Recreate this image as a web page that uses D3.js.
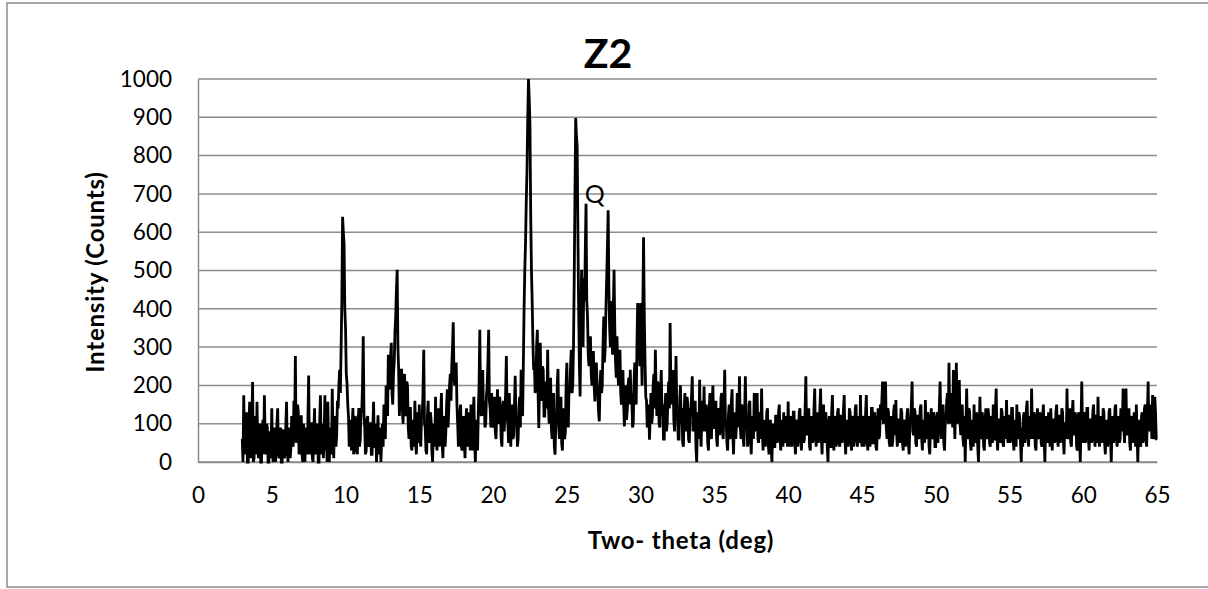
<!DOCTYPE html>
<html>
<head>
<meta charset="utf-8">
<script src="https://cdn.jsdelivr.net/npm/d3@7"></script>
<style>
	body { margin: 0; background: #fff; }
	svg { display: block; font-family: Lato, "Open Sans", sans-serif; }
</style>
</head>
<body>
<div id="chart"></div>
<script>
const chartTitle = 'Z2';
const xTitle = 'Two- theta (deg)';
const yTitle = 'Intensity (Counts)';

const xTicks = [0, 5, 10, 15, 20, 25, 30, 35, 40, 45, 50, 55, 60, 65];
const yTicks = [0, 100, 200, 300, 400, 500, 600, 700, 800, 900, 1000];

// scan grid: 3.00 .. 65.00 deg, 0.05 deg step
const thetaStart = 3;
const thetaStep = 0.05;

// counts, one row per degree (x.00 .. x.95)
const intensity = [
	60, 0, 174, 50, 20, 110, 130, 0, 0, 90, 157, 10, 40, 100, 209, 0, 10, 80, 120, 20,                  // 3
	157, 30, 10, 100, 95, 0, 0, 70, 110, 20, 174, 60, 20, 100, 90, 0, 0, 60, 80, 10,                   // 4
	140, 20, 0, 90, 70, 0, 30, 100, 140, 20, 10, 80, 90, 0, 0, 70, 85, 10, 20, 90,                     // 5
	157, 30, 0, 90, 80, 10, 40, 120, 100, 40, 160, 80, 277, 50, 60, 150, 130, 20, 30, 100,             // 6
	122, 20, 0, 100, 60, 0, 90, 30, 20, 110, 226, 20, 40, 100, 100, 10, 0, 80, 140, 30,                // 7
	20, 100, 90, 0, 0, 110, 174, 20, 60, 100, 10, 70, 174, 30, 80, 0, 157, 40, 0, 90,                  // 8
	60, 20, 191, 60, 10, 120, 110, 40, 70, 160, 140, 200, 241, 180, 300, 420, 640, 600, 570, 400,      // 9
	350, 230, 206, 150, 120, 40, 60, 110, 30, 90, 141, 20, 40, 120, 110, 30, 20, 100, 141, 40,         // 10
	60, 140, 130, 200, 328, 120, 90, 20, 30, 110, 120, 40, 50, 100, 100, 20, 20, 90, 157, 40,          // 11
	40, 100, 0, 60, 122, 20, 50, 90, 0, 60, 100, 40, 150, 70, 60, 200, 180, 120, 280, 190,             // 12
	200, 270, 311, 180, 150, 230, 260, 340, 380, 450, 502, 300, 240, 120, 180, 240, 240, 140, 100, 200, // 13
	230, 150, 120, 210, 200, 90, 60, 140, 140, 40, 30, 110, 100, 40, 160, 60, 20, 100, 130, 50,        // 14
	150, 60, 40, 120, 120, 180, 293, 100, 90, 30, 20, 120, 160, 50, 60, 130, 110, 30, 0, 90,           // 15
	100, 40, 170, 60, 30, 120, 140, 40, 60, 130, 180, 50, 10, 110, 120, 40, 80, 150, 190, 90,          // 16
	140, 200, 230, 160, 250, 300, 365, 220, 200, 240, 260, 150, 100, 40, 60, 130, 150, 40, 30, 100,    // 17
	120, 50, 10, 100, 140, 40, 60, 130, 90, 30, 150, 60, 30, 120, 170, 50, 0, 80, 110, 30,             // 18
	130, 200, 345, 150, 120, 180, 240, 120, 160, 90, 100, 170, 200, 260, 345, 160, 140, 90, 180, 100,  // 19
	90, 150, 170, 80, 60, 140, 190, 100, 110, 170, 140, 60, 40, 130, 160, 80, 120, 180, 277, 120,      // 20
	100, 50, 180, 90, 40, 110, 150, 60, 70, 150, 225, 100, 110, 40, 60, 140, 170, 90, 241, 150,        // 21
	120, 250, 398, 500, 572, 680, 763, 900, 1000, 950, 880, 650, 502, 420, 311, 240, 260, 180, 200, 300, // 22
	345, 180, 89, 200, 311, 170, 160, 250, 240, 120, 120, 210, 200, 140, 293, 150, 100, 180, 220, 90,  // 23
	60, 150, 180, 40, 19, 100, 110, 200, 243, 90, 60, 130, 170, 50, 30, 120, 140, 60, 80, 200,         // 24
	259, 140, 90, 200, 180, 250, 293, 180, 200, 300, 480, 700, 898, 850, 824, 600, 400, 250, 171, 350, // 25
	502, 380, 300, 480, 420, 550, 674, 420, 380, 280, 250, 300, 328, 230, 200, 260, 290, 200, 158, 220, // 26
	260, 200, 180, 130, 106, 200, 240, 180, 200, 300, 380, 260, 300, 400, 480, 560, 657, 450, 350, 300, // 27
	420, 330, 280, 400, 502, 350, 260, 220, 328, 240, 200, 260, 293, 180, 150, 220, 240, 150, 93, 160, // 28
	200, 110, 140, 200, 220, 150, 241, 160, 180, 90, 100, 200, 260, 170, 150, 300, 415, 350, 300, 250, // 29
	415, 300, 200, 400, 587, 380, 259, 170, 160, 90, 100, 150, 58, 120, 180, 100, 120, 200, 230, 140,  // 30
	293, 180, 120, 210, 200, 100, 90, 180, 240, 120, 150, 60, 60, 140, 180, 80, 100, 160, 210, 140,    // 31
	363, 200, 150, 220, 240, 110, 80, 180, 277, 140, 120, 60, 60, 160, 200, 100, 140, 50, 40, 130,     // 32
	180, 80, 100, 170, 150, 60, 50, 140, 120, 170, 224, 80, 90, 150, 160, 40, 0, 100, 130, 60,         // 33
	215, 90, 40, 130, 160, 80, 197, 100, 80, 150, 120, 50, 30, 140, 180, 70, 60, 150, 200, 90,         // 34
	90, 150, 160, 60, 40, 130, 140, 70, 100, 170, 180, 80, 60, 150, 241, 100, 110, 50, 30, 120,        // 35
	150, 60, 80, 160, 190, 70, 20, 120, 130, 60, 100, 180, 170, 90, 224, 100, 60, 150, 140, 60,        // 36
	40, 130, 224, 100, 110, 40, 60, 150, 160, 60, 20, 110, 120, 60, 180, 90, 80, 140, 180, 60,         // 37
	50, 120, 130, 60, 192, 80, 30, 110, 100, 40, 60, 130, 140, 50, 20, 100, 110, 40, 0, 90,            // 38
	100, 40, 40, 120, 120, 50, 70, 130, 150, 60, 30, 110, 90, 40, 130, 60, 50, 120, 110, 40,           // 39
	158, 70, 40, 120, 100, 40, 60, 130, 130, 50, 20, 100, 110, 40, 70, 130, 140, 60, 30, 110,          // 40
	120, 50, 60, 140, 224, 70, 80, 130, 140, 40, 30, 120, 110, 50, 60, 140, 192, 70, 40, 120,          // 41
	130, 50, 80, 140, 192, 60, 20, 110, 150, 50, 60, 130, 100, 40, 0, 100, 120, 40, 40, 130,           // 42
	175, 60, 30, 120, 110, 40, 60, 130, 140, 50, 40, 120, 120, 50, 80, 140, 175, 60, 20, 110,          // 43
	100, 40, 60, 140, 130, 50, 30, 110, 120, 40, 70, 140, 150, 60, 40, 120, 100, 50, 175, 70,          // 44
	40, 120, 110, 40, 60, 130, 175, 60, 30, 110, 120, 40, 80, 140, 140, 50, 50, 130, 100, 40,          // 45
	30, 110, 140, 60, 70, 150, 110, 160, 210, 100, 120, 170, 210, 90, 60, 140, 130, 50, 40, 120,       // 46
	100, 40, 60, 130, 150, 70, 162, 80, 40, 110, 110, 50, 80, 140, 130, 50, 30, 110, 100, 40,          // 47
	60, 120, 140, 50, 20, 100, 110, 150, 210, 80, 70, 140, 130, 50, 40, 120, 120, 60, 80, 140,         // 48
	150, 60, 30, 110, 100, 50, 162, 80, 60, 130, 120, 40, 20, 100, 140, 60, 70, 130, 110, 40,          // 49
	40, 110, 130, 50, 80, 150, 210, 90, 60, 140, 150, 50, 30, 110, 120, 160, 180, 100, 259, 120,       // 50
	100, 180, 160, 90, 240, 130, 60, 150, 259, 140, 100, 170, 214, 100, 70, 140, 150, 60, 40, 120,     // 51
	0, 100, 192, 80, 60, 140, 130, 50, 30, 110, 100, 40, 150, 70, 50, 130, 120, 40, 0, 90,             // 52
	170, 70, 60, 130, 110, 40, 30, 110, 140, 60, 80, 140, 120, 50, 40, 120, 100, 50, 150, 60,          // 53
	60, 140, 192, 70, 30, 110, 110, 50, 70, 140, 130, 50, 40, 120, 100, 60, 162, 80, 50, 120,          // 54
	120, 50, 70, 140, 140, 60, 30, 110, 100, 40, 150, 80, 60, 130, 110, 50, 0, 90, 40, 120,            // 55
	130, 50, 80, 140, 160, 70, 40, 120, 110, 60, 192, 90, 60, 130, 120, 40, 30, 110, 140, 60,          // 56
	70, 130, 110, 50, 40, 120, 150, 60, 0, 90, 120, 50, 60, 130, 100, 40, 140, 70, 30, 110,            // 57
	110, 50, 60, 130, 150, 60, 40, 120, 120, 50, 80, 140, 130, 60, 20, 100, 100, 60, 192, 80,          // 58
	60, 130, 140, 50, 40, 120, 162, 70, 80, 130, 110, 40, 30, 120, 130, 60, 0, 100, 210, 90,           // 59
	50, 130, 120, 50, 80, 140, 140, 60, 30, 110, 110, 50, 60, 130, 150, 70, 40, 120, 120, 50,          // 60
	170, 80, 40, 120, 110, 50, 70, 140, 130, 50, 20, 110, 100, 40, 60, 130, 140, 60, 0, 90,            // 61
	120, 50, 70, 140, 150, 60, 40, 120, 110, 50, 60, 140, 130, 80, 192, 90, 50, 120, 192, 70,          // 62
	80, 130, 140, 50, 30, 110, 120, 50, 60, 130, 100, 40, 150, 70, 0, 90, 110, 50, 40, 120,            // 63
	130, 50, 70, 140, 150, 60, 40, 130, 210, 80, 90, 150, 140, 60, 175, 80, 60, 170, 130, 60,          // 64
	58                                                                                                  // 65
];

// peak annotation
const labelTheta = [26.9];
const labelCounts = [700];
const labelText = ['Q'];

const width = 1208;
const height = 589;
const plot = { left: 198, right: 1157, top: 79, bottom: 462 };

const svg = d3.select('#chart').append('svg')
	.attr('width', width)
	.attr('height', height);

// chart border (right edge falls outside the picture)
svg.append('rect')
	.attr('x', 7)
	.attr('y', 3)
	.attr('width', 1220)
	.attr('height', 584)
	.style('fill', '#fff')
	.style('stroke', '#8c8c8c')
	.style('stroke-width', 1.5);

const xScale = d3.scaleLinear()
	.domain([0, 65])
	.range([plot.left, plot.right]);

const yScale = d3.scaleLinear()
	.domain([0, 1000])
	.range([plot.bottom, plot.top]);

// gridlines
svg.append('g')
	.selectAll('line')
	.data(yTicks)
	.enter()
	.append('line')
		.attr('x1', plot.left)
		.attr('x2', plot.right)
		.attr('y1', d => yScale(d))
		.attr('y2', d => yScale(d))
		.style('stroke', '#8c8c8c')
		.style('stroke-width', 1.5);

const yAxis = d3.axisLeft(yScale)
	.tickValues(yTicks)
	.tickFormat(d3.format('d'))
	.tickSize(0)
	.tickPadding(26);

const xAxis = d3.axisBottom(xScale)
	.tickValues(xTicks)
	.tickFormat(d3.format('d'))
	.tickSize(0)
	.tickPadding(25);

const gy = svg.append('g')
	.attr('transform', `translate(${plot.left}, 0)`)
	.call(yAxis);

const gx = svg.append('g')
	.attr('transform', `translate(0, ${plot.bottom})`)
	.call(xAxis);

[gx, gy].forEach(g => {
	g.select('.domain')
		.style('stroke', '#8c8c8c')
		.style('stroke-width', 1.5);
	g.selectAll('text')
		.style('font-family', 'Lato, sans-serif')
		.style('font-size', '22.5px')
		.style('fill', '#000');
});

// the pattern
const points = intensity.map((v, i) => [thetaStart + i * thetaStep, v]);

const line = d3.line()
	.x(d => xScale(d[0]))
	.y(d => yScale(d[1]));

svg.append('path')
	.datum(points)
	.attr('d', line)
	.style('fill', 'none')
	.style('stroke', '#000')
	.style('stroke-width', 2.8)
	.style('stroke-linejoin', 'miter')
	.style('stroke-miterlimit', 2);

svg.append('g')
	.selectAll('text')
	.data(labelText)
	.enter()
	.append('text')
		.attr('x', (d, i) => xScale(labelTheta[i]))
		.attr('y', (d, i) => yScale(labelCounts[i]))
		.attr('text-anchor', 'middle')
		.attr('dy', '0.35em')
		.style('font-size', '25px')
		.style('fill', '#000')
		.text(d => d);

// titles
svg.append('text')
	.attr('x', 608)
	.attr('y', 68)
	.attr('text-anchor', 'middle')
	.style('font-size', '41px')
	.style('font-weight', 'bold')
	.text(chartTitle);

svg.append('text')
	.attr('x', 681)
	.attr('y', 549)
	.attr('text-anchor', 'middle')
	.style('font-size', '24px')
	.style('font-weight', 'bold')
	.style('letter-spacing', '0.8px')
	.text(xTitle);

svg.append('text')
	.attr('transform', 'translate(104, 272) rotate(-90)')
	.attr('text-anchor', 'middle')
	.style('font-size', '24px')
	.style('font-weight', 'bold')
	.style('letter-spacing', '0.8px')
	.text(yTitle);
</script>
</body>
</html>
